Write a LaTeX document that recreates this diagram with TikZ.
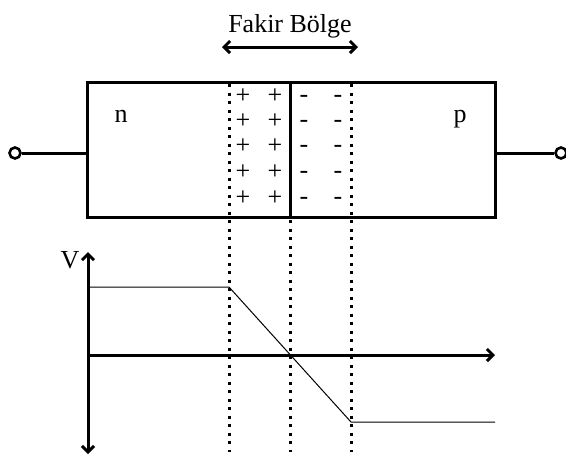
\documentclass[tikz,border=0pt]{standalone}
\usepackage{fontspec}
\setmainfont{Liberation Serif}
\usetikzlibrary{arrows.meta}
\begin{document}
\begin{tikzpicture}[x=1pt,y=-1pt,
  heavy/.style={line width=3pt},
  thin line/.style={line width=1pt},
  dotline/.style={line width=3pt, dash pattern=on 3pt off 5.5pt},
  big/.style={font=\fontsize{26}{30}\selectfont, inner sep=0pt},
  barb/.style={{Straight Barb[length=6pt,width=12pt,line width=3pt]}-{Straight Barb[length=6pt,width=12pt,line width=3pt]}},
  barbend/.style={-{Straight Barb[length=6pt,width=12pt,line width=3pt]}}
]
\useasboundingbox (0,0) rectangle (566,459);
% box
\coordinate (bl) at (87,82);
\coordinate (br) at (495,217);
\draw[heavy] (bl) rectangle (br);
% terminals
\coordinate (lw) at (87,153);
\coordinate (rw) at (495,153);
\node[circle, draw, line width=2.6pt, minimum size=11pt, inner sep=0pt] (lc) at (15,153) {};
\node[circle, draw, line width=2.6pt, minimum size=11pt, inner sep=0pt] (rc) at (561,153) {};
\draw[heavy] (lc) -- (lw);
\draw[heavy] (rw) -- (rc);
% labels
\node[big, anchor=base] (title) at (290,32) {Fakir Bölge};
\coordinate (al) at (222,47);
\coordinate (ar) at (358,47);
\draw[heavy, barb] (al) -- (ar);
\node[big, anchor=base] (nl) at (121,122) {n};
\node[big, anchor=base] (pl) at (460,122) {p};
% junction
\coordinate (jt) at (290,82);
\coordinate (jb) at (290,217);
\draw[heavy] (jt) -- (jb);
\coordinate (d1t) at (229,84);
\coordinate (d1b) at (229,452);
\coordinate (d2t) at (290,220);
\coordinate (d2b) at (290,452);
\coordinate (d3t) at (351,84);
\coordinate (d3b) at (351,452);
\draw[dotline] (d1t) -- (d1b);
\draw[dotline] (d2t) -- (d2b);
\draw[dotline] (d3t) -- (d3b);
% charges
\foreach \y [count=\i] in {97,122,147,173,199}{
  \node[big, anchor=base] (pa\i) at (243,\y+6.5) {+};
  \node[big, anchor=base] (pb\i) at (275,\y+6.5) {+};
  \node[big, anchor=base] (ma\i) at (304,\y+5.5) {-};
  \node[big, anchor=base] (mb\i) at (338,\y+5.5) {-};
}
% axes
\coordinate (vt) at (88,252);
\coordinate (vb) at (88,454);
\coordinate (o) at (88,355);
\coordinate (hx) at (495,355);
\draw[heavy, barb] (vb) -- (vt);
\draw[heavy, barbend] (o) -- (hx);
\node[big, anchor=base] (vl) at (70,268) {V};
% potential
\coordinate (c0) at (89,287);
\coordinate (c1) at (229,287);
\coordinate (c2) at (351,422);
\coordinate (c3) at (495,422);
\draw[thin line] (c0) -- (c1) -- (c2) -- (c3);
\end{tikzpicture}
\end{document}
